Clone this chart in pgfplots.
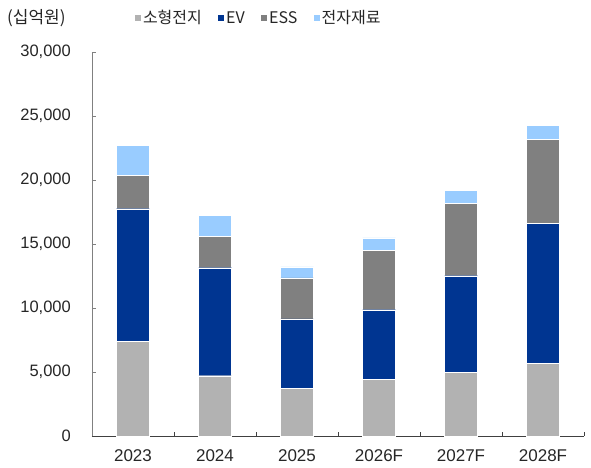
\documentclass[border=0pt]{standalone}
\usepackage{fontspec}
\setmainfont{Liberation Sans}
\newfontfamily\kr{Noto Sans CJK KR}
\usepackage{pgfplots}
\usepackage{pgfplotstable}
\pgfplotsset{compat=1.18}
\definecolor{cSmall}{HTML}{B2B2B2}
\definecolor{cEV}{HTML}{003591}
\definecolor{cESS}{HTML}{808080}
\definecolor{cMat}{HTML}{99CCFF}

% 십억원
\pgfplotstableread{
x small ev ess mat
0 7400 10360 2600 2350
1 4710 8440 2470 1620
2 3720 5440 3200 860
3 4430 5440 4660 940
4 4970 7550 5650 1020
5 5680 10910 6610 1090
}\datatable

\begin{document}
\begin{tikzpicture}
\path[use as bounding box] (-92bp,-32bp) rectangle (499bp,436bp);
\begin{axis}[
  scale only axis, width=492bp, height=384bp,
  ybar stacked, bar width=33bp,
  xmin=-0.5, xmax=5.5, ymin=0, ymax=30000,
  xtick={-0.5,0.5,...,5.5}, x tick label as interval,
  xticklabels={2023,2024,2025,2026F,2027F,2028F},
  ytick={0,5000,...,30000},
  scaled y ticks=false,
  axis x line*=bottom, axis y line*=left,
  axis line style={-},
  x axis line style={draw=black!75},
  y axis line style={draw=black!50},
  xtick style={draw=black!75},
  ytick style={draw=black!50},
  tick align=inside, major tick length=4bp,
  /pgf/number format/assume math mode=true,
  /pgf/number format/1000 sep={,},
  yticklabel style={inner sep=0pt, xshift=-21bp, font=\fontsize{16.5bp}{18bp}\selectfont, text=black!85},
  xticklabel style={inner sep=0pt, yshift=-13.5bp, font=\fontsize{17bp}{18bp}\selectfont, text=black!85},
  legend columns=4,
  legend cell align=left,
  legend style={at={(0.0854,1.0885)}, anchor=west, draw=none, fill=none, inner sep=0pt,
    font=\kr\fontsize{16bp}{18bp}\selectfont, text=black!85,
    nodes={inner sep=1.5bp},
    /tikz/every even column/.append style={column sep=14bp}},
  legend image code/.code={\fill[#1] (0bp,-3.5bp) rectangle (7bp,3.5bp);},
]
\addplot[fill=cSmall, draw=white, line width=0.3bp] table[x=x, y=small]{\datatable};
\addplot[fill=cEV, draw=white, line width=0.3bp] table[x=x, y=ev]{\datatable};
\addplot[fill=cESS, draw=white, line width=0.3bp] table[x=x, y=ess]{\datatable};
\addplot[fill=cMat, draw=white, line width=0.3bp] table[x=x, y=mat]{\datatable};
\legend{소형전지, EV, ESS, 전자재료}
\end{axis}
\node[anchor=west, inner sep=0pt, font=\kr\fontsize{17bp}{18bp}\selectfont, text=black!85] at (-85bp,418bp) {(십억원)};
\end{tikzpicture}
\end{document}
